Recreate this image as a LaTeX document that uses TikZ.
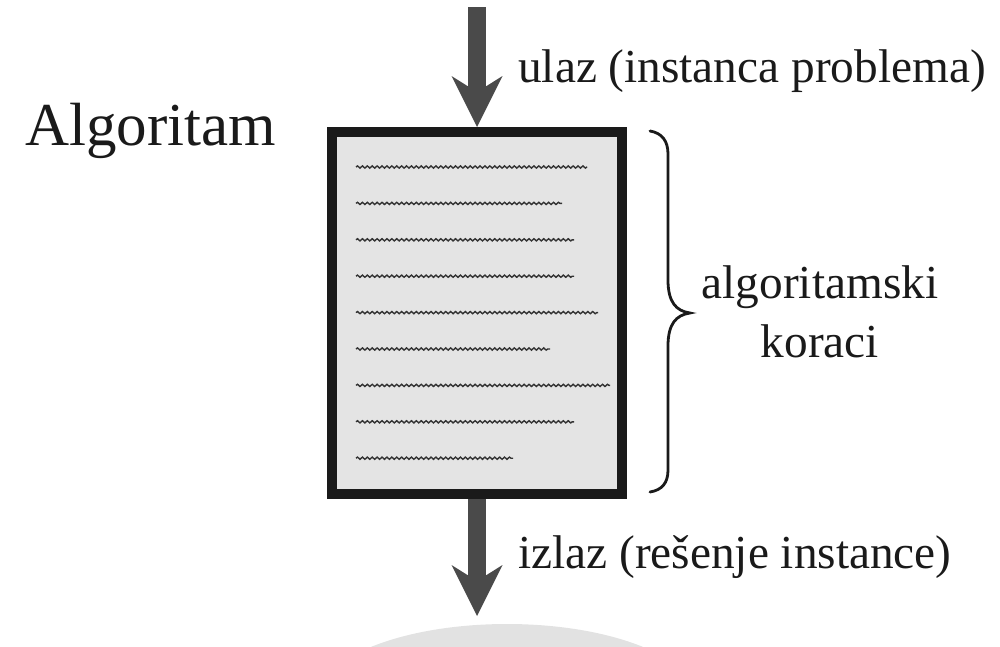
\documentclass[tikz,border=0pt]{standalone}
\usepackage{fontspec}
\setmainfont{Liberation Serif}
\usetikzlibrary{arrows.meta,decorations.pathmorphing}
\definecolor{ink}{HTML}{1A1A1A}
\definecolor{arrowgray}{HTML}{4A4A4A}
\definecolor{paper}{HTML}{E4E4E4}
\definecolor{squiggle}{HTML}{333333}
\definecolor{shadowgray}{HTML}{E2E2E2}

\begin{document}
\begin{tikzpicture}[x=1pt,y=-1pt,
  flow/.style={draw=arrowgray, line width=18pt,
    -{Stealth[length=51pt,width=51pt,inset=16pt,line width=0pt]}},
  txt/.style={font=\fontsize{47.3pt}{59pt}\selectfont, text=ink, inner sep=0pt},
  stepsbox/.style={draw=ink, fill=paper, line width=10pt,
    minimum width=290pt, minimum height=362pt, inner sep=0pt},
  textline/.style={draw=squiggle, line width=1.4pt, decorate,
    decoration={snake, segment length=4.9pt, amplitude=1.1pt}},
  bracestyle/.style={draw=ink, line width=2.8pt, line cap=round}
]
\useasboundingbox (0,0) rectangle (1000,646);
\clip (0,0) rectangle (1000,646);

% shadow under the output arrow
\fill[shadowgray] (507,700) ellipse [x radius=190, y radius=76];

% the algorithm as a sheet of steps
\node[stepsbox] (box) at (477,313) {};
\foreach \e [count=\i from 0] in {587,562,574,574,598,550,610,574,513}
  \draw[textline] (356,{167+36.4*\i}) -- (\e,{167+36.4*\i});

% input and output arrows
\coordinate (src) at (477,7);
\coordinate (sink) at (477,616);
\draw[flow] (src) -- (box.north);
\draw[flow] (box.south) -- (sink);

% brace over the steps
\draw[bracestyle] (650,131) .. controls (662,133) and (668,141) .. (668,154)
  -- (668,280) .. controls (668,302) and (676,311) .. (690,313)
  .. controls (676,315) and (668,324) .. (668,346)
  -- (668,470) .. controls (668,483) and (662,490) .. (650,492);

% texts
\node[txt, font=\fontsize{61pt}{70pt}\selectfont, anchor=base west] (title) at (25,145) {Algoritam};
\node[txt, anchor=base west] (inlabel) at (518,82) {ulaz (instanca problema)};
\node[txt, anchor=base west] (outlabel) at (518,568) {izlaz (rešenje instance)};
\node[txt, align=center, anchor=base] (steps) at (820,357) {algoritamski\\koraci};
\end{tikzpicture}
\end{document}
